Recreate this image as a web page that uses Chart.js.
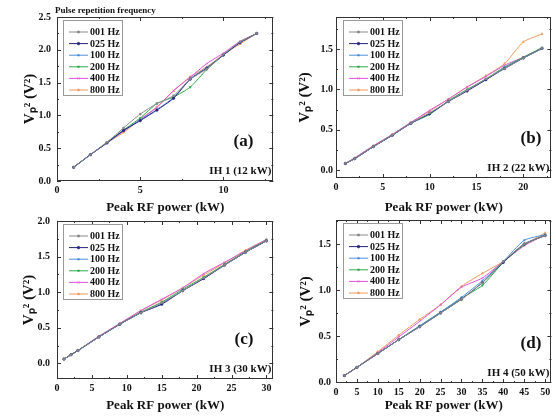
<!DOCTYPE html>
<html>
<head>
<meta charset="utf-8">
<script src="https://cdn.jsdelivr.net/npm/chart.js@4.4.1/dist/chart.umd.min.js"></script>
<style>
html, body { margin: 0; padding: 0; background: #fff; }
#wrap { position: relative; width: 556px; height: 418px; overflow: hidden; }
canvas { position: absolute; }
</style>
</head>
<body>
<div id="wrap">
  <canvas id="chartA" width="278" height="216" style="left:0;top:0"></canvas>
  <canvas id="chartB" width="278" height="216" style="left:278px;top:0"></canvas>
  <canvas id="chartC" width="278" height="213" style="left:0;top:205px"></canvas>
  <canvas id="chartD" width="278" height="213" style="left:278px;top:205px"></canvas>
</div>
<script>
// --- datos ---
const freqLabels = ['001 Hz', '025 Hz', '100 Hz', '200 Hz', '400 Hz', '800 Hz'];

// IH 1 (12 kW)
const powerA = [1, 2, 3, 4, 5, 6, 7, 8, 9, 10, 11, 12];
const vpA = [
    [0.21, 0.40, 0.59, 0.81, 1.02, 1.18, 1.30, 1.55, 1.71, 1.93, 2.12, 2.25],
    [0.21, 0.40, 0.58, 0.77, 0.92, 1.08, 1.26, 1.55, 1.72, 1.92, 2.11, 2.25],
    [0.21, 0.40, 0.58, 0.77, 0.93, 1.09, 1.27, 1.56, 1.73, 1.92, 2.11, 2.25],
    [0.21, 0.40, 0.59, 0.78, 0.96, 1.18, 1.28, 1.43, 1.70, 1.92, 2.12, 2.25],
    [0.21, 0.40, 0.58, 0.76, 0.94, 1.12, 1.38, 1.58, 1.79, 1.95, 2.13, 2.25],
    [0.21, 0.40, 0.58, 0.74, 0.94, 1.13, 1.37, 1.59, 1.74, 1.93, 2.09, 2.25]
];

// IH 2 (22 kW)
const powerB = [1, 2, 4, 6, 8, 10, 12, 14, 16, 18, 20, 22];
const vpB = [
    [0.08, 0.14, 0.29, 0.43, 0.58, 0.71, 0.85, 0.99, 1.13, 1.26, 1.39, 1.51],
    [0.08, 0.14, 0.29, 0.43, 0.58, 0.70, 0.85, 0.98, 1.12, 1.26, 1.39, 1.51],
    [0.08, 0.14, 0.29, 0.43, 0.58, 0.70, 0.85, 0.99, 1.12, 1.27, 1.39, 1.51],
    [0.08, 0.14, 0.29, 0.43, 0.58, 0.69, 0.86, 1.00, 1.13, 1.28, 1.40, 1.52],
    [0.08, 0.15, 0.30, 0.44, 0.59, 0.74, 0.88, 1.03, 1.16, 1.30, 1.40, 1.51],
    [0.08, 0.15, 0.30, 0.44, 0.59, 0.73, 0.88, 1.03, 1.17, 1.32, 1.59, 1.69]
];

// IH 3 (30 kW)
const powerC = [1, 2, 3, 6, 9, 12, 15, 18, 21, 24, 27, 30];
const vpC = [
    [0.06, 0.12, 0.18, 0.37, 0.55, 0.71, 0.85, 1.02, 1.20, 1.38, 1.56, 1.72],
    [0.06, 0.12, 0.18, 0.37, 0.55, 0.71, 0.83, 1.02, 1.19, 1.38, 1.56, 1.72],
    [0.06, 0.12, 0.18, 0.37, 0.55, 0.71, 0.84, 1.02, 1.19, 1.38, 1.56, 1.72],
    [0.06, 0.12, 0.18, 0.37, 0.55, 0.72, 0.86, 1.04, 1.21, 1.39, 1.57, 1.73],
    [0.06, 0.12, 0.18, 0.38, 0.56, 0.74, 0.90, 1.06, 1.26, 1.42, 1.58, 1.74],
    [0.06, 0.12, 0.18, 0.38, 0.56, 0.74, 0.89, 1.06, 1.24, 1.41, 1.59, 1.74]
];

// IH 4 (50 kW)
const powerD = [2, 5, 10, 15, 20, 25, 30, 35, 40, 45, 50];
const vpD = [
    [0.07, 0.16, 0.31, 0.46, 0.60, 0.75, 0.90, 1.08, 1.31, 1.50, 1.59],
    [0.07, 0.16, 0.31, 0.46, 0.60, 0.75, 0.90, 1.08, 1.30, 1.50, 1.59],
    [0.07, 0.16, 0.31, 0.46, 0.61, 0.76, 0.92, 1.10, 1.31, 1.54, 1.60],
    [0.07, 0.16, 0.31, 0.46, 0.61, 0.76, 0.91, 1.05, 1.30, 1.49, 1.60],
    [0.07, 0.16, 0.32, 0.49, 0.66, 0.84, 1.03, 1.13, 1.31, 1.48, 1.60],
    [0.07, 0.16, 0.33, 0.51, 0.68, 0.84, 1.04, 1.18, 1.31, 1.49, 1.62]
];

// marcas de los ejes
const xTicksA = [0, 5, 10];
const yTicksA = [0, 0.5, 1.0, 1.5, 2.0, 2.5];
const xTicksB = [0, 5, 10, 15, 20];
const yTicksB = [0, 0.5, 1.0, 1.5];
const xTicksC = [0, 5, 10, 15, 20, 25, 30];
const yTicksC = [0, 0.5, 1.0, 1.5, 2.0];
const xTicksD = [0, 5, 10, 15, 20, 25, 30, 35, 40, 45, 50];
const yTicksD = [0, 0.5, 1.0, 1.5];

// --- estilos ---
const lineColors = ['#8a8a8a', '#23237e', '#4d8fdc', '#2eab4a', '#e052e0', '#f09a5a'];
const pointStyles = ['rect', 'circle', 'triangle', 'triangle', 'crossRot', 'triangle'];
const SERIF = '"Liberation Serif", "Times New Roman", serif';

// ticks hacia dentro, marco y leyenda
const panelDeco = {
    id: 'panelDeco',
    afterDraw(chart, args, o) {
        const { ctx, chartArea: a } = chart;
        const x = chart.scales.x, y = chart.scales.y;
        ctx.save();
        ctx.strokeStyle = '#333';
        ctx.lineWidth = 1;
        ctx.strokeRect(Math.round(a.left) + 0.5, Math.round(a.top) + 0.5,
            Math.round(a.right - a.left) - 1, Math.round(a.bottom - a.top) - 1);

        const drawTicks = (scale, horiz) => {
            const vals = scale.ticks.map(t => t.value);
            const step = vals[1] - vals[0];
            const minor = [];
            for (let v = vals[0] - step / 2; v <= scale.max; v += step) {
                if (v >= scale.min) minor.push(v);
            }
            const put = (v, len) => {
                const p = Math.round(scale.getPixelForValue(v)) + 0.5;
                ctx.beginPath();
                if (horiz) {
                    ctx.moveTo(p, a.bottom); ctx.lineTo(p, a.bottom - len);
                    ctx.moveTo(p, a.top); ctx.lineTo(p, a.top + len);
                } else {
                    ctx.moveTo(a.left, p); ctx.lineTo(a.left + len, p);
                    ctx.moveTo(a.right, p); ctx.lineTo(a.right - len, p);
                }
                ctx.stroke();
            };
            vals.forEach(v => put(v, 4));
            minor.forEach(v => put(v, 2));
        };
        drawTicks(x, true);
        drawTicks(y, false);

        // leyenda
        const bx = a.left + o.legendDx, by = a.top + 3, bw = 59, bh = 75;
        ctx.fillStyle = '#fff';
        ctx.fillRect(bx, by, bw, bh);
        ctx.strokeStyle = '#999';
        ctx.strokeRect(bx + 0.5, by + 0.5, bw, bh);
        ctx.font = 'bold 10px ' + SERIF;
        ctx.textBaseline = 'middle';
        ctx.textAlign = 'left';
        chart.data.datasets.forEach((ds, i) => {
            const cy = by + 12 + i * 11.6;
            ctx.strokeStyle = ds.borderColor;
            ctx.lineWidth = 1;
            ctx.beginPath();
            ctx.moveTo(bx + 6, cy); ctx.lineTo(bx + 25, cy);
            ctx.stroke();
            ctx.fillStyle = ds.borderColor;
            Chart.helpers.drawPoint(ctx, {
                pointStyle: ds.pointStyle, radius: 1.2, rotation: ds.pointRotation || 0, borderWidth: 0.6
            }, bx + 15.5, cy);
            ctx.fillStyle = '#111';
            ctx.fillText(ds.label, bx + 27, cy + 0.5);
        });

        // etiquetas del panel
        ctx.fillStyle = '#111';
        ctx.textAlign = 'right';
        ctx.font = 'bold 17px ' + SERIF;
        ctx.fillText(o.tag, a.right - o.tagDx, a.bottom - 39);
        ctx.font = 'bold 11px ' + SERIF;
        ctx.fillText(o.note, a.right - 2, a.bottom - 10);
        if (o.header) {
            ctx.textAlign = 'left';
            ctx.font = 'bold 9px ' + SERIF;
            ctx.fillText(o.header, a.left - 2, 11);
        }
        ctx.restore();
    }
};

function buildPanel(id, power, values, xTicks, yTicks, g) {
    const datasets = values.map((vals, i) => ({
        label: freqLabels[i],
        data: power.map((p, k) => ({ x: p, y: vals[k] })),
        borderColor: lineColors[i],
        backgroundColor: lineColors[i],
        borderWidth: 1,
        pointStyle: pointStyles[i],
        pointRotation: i === 3 ? 180 : 0,
        pointRadius: 1.2,
        pointBorderWidth: 0.6,
        tension: 0.2
    }));
    const tickFont = { family: SERIF, size: 10, weight: 'bold' };
    return new Chart(document.getElementById(id), {
        type: 'line',
        data: { datasets: datasets },
        options: {
            responsive: false,
            animation: false,
            devicePixelRatio: 1,
            layout: { padding: { top: g.padTop, right: g.padRight, left: 0, bottom: 0 } },
            plugins: {
                legend: { display: false },
                tooltip: { enabled: false },
                panelDeco: { tag: g.tag, note: g.note, tagDx: g.tagDx, legendDx: g.legendDx, header: g.header }
            },
            scales: {
                x: {
                    type: 'linear',
                    min: g.xMin, max: g.xMax,
                    grid: { display: false, drawTicks: false },
                    border: { display: false },
                    afterBuildTicks: s => { s.ticks = xTicks.map(v => ({ value: v })); },
                    afterFit: s => { s.height = g.xH; },
                    ticks: { font: tickFont, color: '#111', padding: 3, autoSkip: false, maxRotation: 0 },
                    title: {
                        display: true, text: 'Peak RF power (kW)', color: '#111',
                        font: { family: SERIF, size: 13, weight: 'bold' },
                        padding: { top: 0, bottom: g.xTitlePad }
                    }
                },
                y: {
                    min: g.yMin, max: g.yMax,
                    grid: { display: false, drawTicks: false },
                    border: { display: false },
                    afterBuildTicks: s => { s.ticks = yTicks.map(v => ({ value: v })); },
                    afterFit: s => { s.width = g.yW; },
                    ticks: { font: tickFont, color: '#111', padding: g.yTickPad, callback: v => v.toFixed(1) },
                    title: {
                        display: true, text: 'Vₚ² (V²)', color: '#111',
                        font: { family: SERIF, size: 15, weight: 'bold' },
                        padding: { top: g.yTitlePad, bottom: 0 }
                    }
                }
            }
        },
        plugins: [panelDeco]
    });
}

document.addEventListener('DOMContentLoaded', function () {
    buildPanel('chartA', powerA, vpA, xTicksA, yTicksA, {
        xMin: 0, xMax: 13, yMin: 0, yMax: 2.5,
        padTop: 17, padRight: 1, yW: 57, xH: 35, yTitlePad: 21, yTickPad: 6, xTitlePad: 1,
        tag: '(a)', note: 'IH 1 (12 kW)', tagDx: 20, legendDx: 6, header: 'Pulse repetition frequency'
    });
    buildPanel('chartB', powerB, vpB, xTicksB, yTicksB, {
        xMin: 0, xMax: 23, yMin: -0.1, yMax: 1.9,
        padTop: 17, padRight: 2, yW: 58, xH: 38, yTitlePad: 18, yTickPad: 3, xTitlePad: 1,
        tag: '(b)', note: 'IH 2 (22 kW)', tagDx: 10, legendDx: 7
    });
    buildPanel('chartC', powerC, vpC, xTicksC, yTicksC, {
        xMin: 0, xMax: 31, yMin: -0.22, yMax: 2.0,
        padTop: 16, padRight: 1, yW: 57, xH: 39, yTitlePad: 20, yTickPad: 7, xTitlePad: 5,
        tag: '(c)', note: 'IH 3 (30 kW)', tagDx: 20, legendDx: 6
    });
    buildPanel('chartD', powerD, vpD, xTicksD, yTicksD, {
        xMin: 0, xMax: 51.5, yMin: -0.01, yMax: 1.76,
        padTop: 15, padRight: 2, yW: 58, xH: 35, yTitlePad: 19, yTickPad: 5, xTitlePad: 5,
        tag: '(d)', note: 'IH 4 (50 kW)', tagDx: 10, legendDx: 7
    });
});
</script>
</body>
</html>
